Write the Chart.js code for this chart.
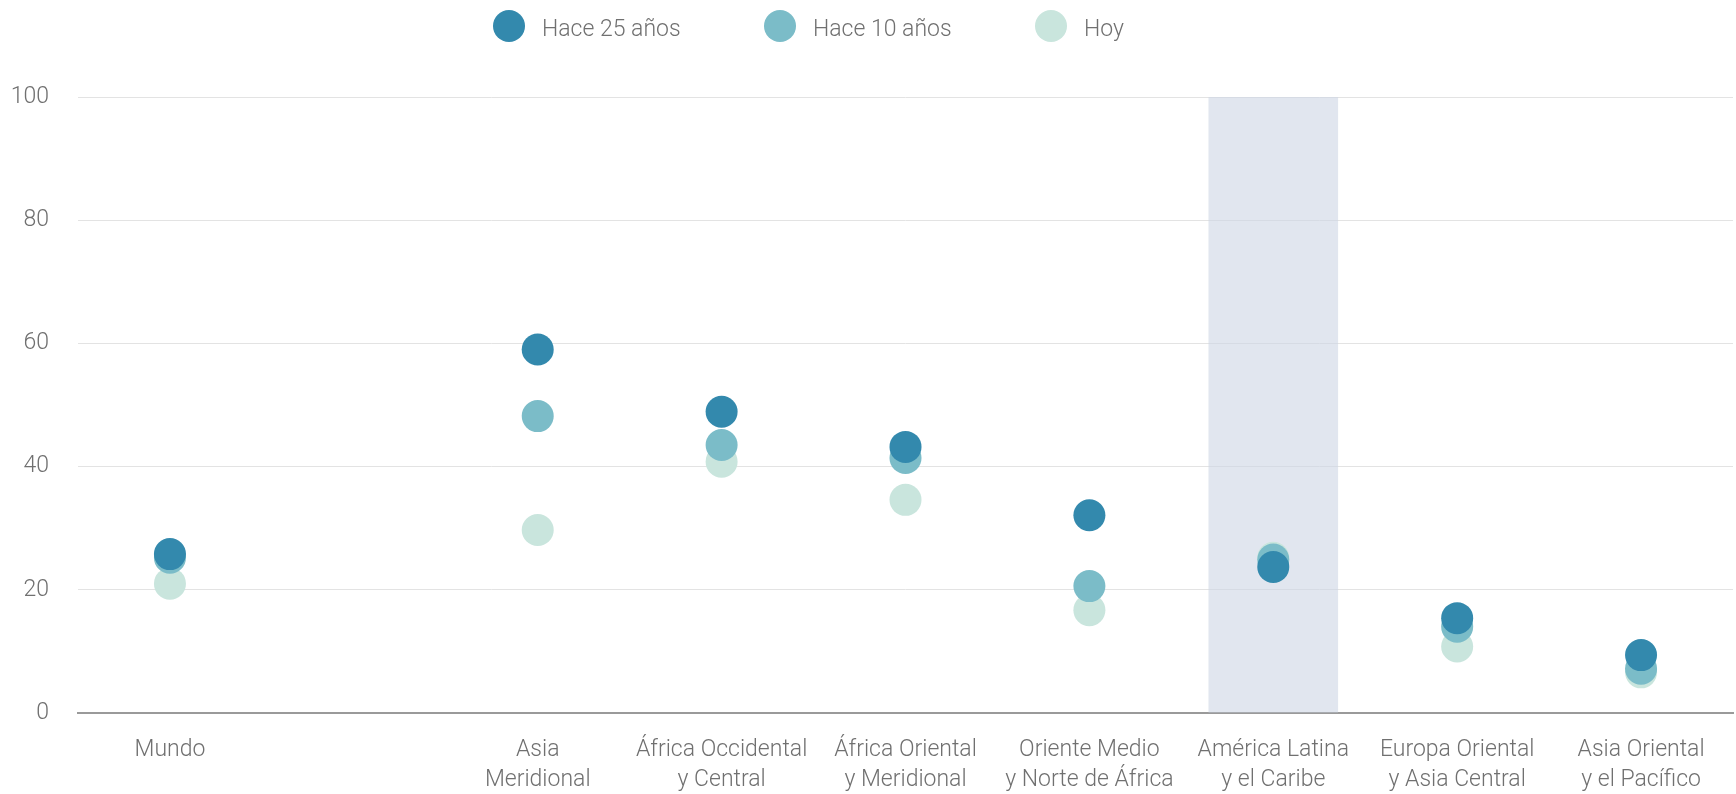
<!DOCTYPE html>
<html lang="es">
<head>
<meta charset="utf-8">
<title>Comparación regional</title>
<script src="https://cdn.jsdelivr.net/npm/chart.js@4.4.1/dist/chart.umd.min.js"></script>
<style>
    html, body { margin: 0; background: #fff; overflow: hidden; }
    #contenedor { position: relative; width: 1736px; height: 794px; overflow: hidden; }
    #grafico { display: block; }
    #leyenda {
        position: absolute; top: 10px; left: 493px;
        display: flex; font-family: Roboto, "Liberation Sans", sans-serif;
        font-weight: 300; font-size: 23px; color: #707070;
    }
    .item { display: flex; align-items: center; width: 271px; height: 32px; }
    .item span:last-child { position: relative; top: 2px; }
    .punto { width: 32px; height: 32px; border-radius: 50%; margin-right: 17px; }
</style>
</head>
<body>
<div id="contenedor">
    <div id="leyenda"></div>
    <canvas id="grafico" width="1736" height="794"></canvas>
</div>
<script>
// Datos del gráfico
const regiones = [
    'Mundo', '', ['Asia', 'Meridional'], ['África Occidental', 'y Central'],
    ['África Oriental', 'y Meridional'], ['Oriente Medio', 'y Norte de África'],
    ['América Latina', 'y el Caribe'], ['Europa Oriental', 'y Asia Central'],
    ['Asia Oriental', 'y el Pacífico']
];
const hace25 = [25.8, null, 59.0, 48.9, 43.2, 32.1, 23.7, 15.4, 9.4];
const hace10 = [25.2, null, 48.2, 43.5, 41.4, 20.6, 24.9, 14.0, 7.2];
const hoy = [21.0, null, 29.7, 40.8, 34.6, 16.7, 25.2, 10.8, 6.6];
// Región resaltada (franja de fondo)
const destacado = [null, null, null, null, null, null, 100, null, null];
const ticksY = [0, 20, 40, 60, 80, 100];

const series = [
    { nombre: 'Hace 25 años', datos: hace25, color: '#3389ad', orden: 1 },
    { nombre: 'Hace 10 años', datos: hace10, color: '#7bbcc8', orden: 2 },
    { nombre: 'Hoy', datos: hoy, color: '#c9e5dd', orden: 3 }
];

const fuente = { family: 'Roboto, "Liberation Sans", sans-serif', size: 23, weight: 300, lineHeight: 1.3 };

document.addEventListener('DOMContentLoaded', function() {
    // Leyenda en HTML
    const leyenda = document.getElementById('leyenda');
    series.forEach(s => {
        const item = document.createElement('div');
        item.className = 'item';
        item.innerHTML = `<span class="punto" style="background:${s.color}"></span><span>${s.nombre}</span>`;
        leyenda.appendChild(item);
    });

    const datasets = series.map(s => ({
        type: 'line',
        label: s.nombre,
        data: s.datos,
        showLine: false,
        pointRadius: 16,
        pointHoverRadius: 16,
        pointBorderWidth: 0,
        pointBackgroundColor: s.color,
        order: s.orden
    }));

    datasets.push({
        type: 'bar',
        label: 'destacado',
        data: destacado,
        backgroundColor: 'rgba(205, 213, 228, 0.6)',
        barPercentage: 0.705,
        categoryPercentage: 1,
        order: 10
    });

    const ctx = document.getElementById('grafico').getContext('2d');
    new Chart(ctx, {
        data: { labels: regiones, datasets: datasets },
        options: {
            responsive: false,
            animation: false,
            layout: { autoPadding: false, padding: { top: 97, right: 3, left: 0, bottom: 0 } },
            plugins: {
                legend: { display: false },
                tooltip: { enabled: false }
            },
            scales: {
                x: {
                    type: 'category',
                    offset: true,
                    grid: { display: false, drawTicks: false },
                    border: { display: true, color: '#9a9a9a', width: 2 },
                    ticks: {
                        color: '#707070',
                        font: fuente,
                        padding: 22,
                        maxRotation: 0,
                        autoSkip: false
                    },
                    afterFit: scale => {
                        scale.height = 81;
                        scale.paddingLeft = 0;
                        scale.paddingRight = 0;
                    }
                },
                y: {
                    min: 0,
                    max: 100,
                    afterBuildTicks: scale => { scale.ticks = ticksY.map(v => ({ value: v })); },
                    afterFit: scale => { scale.width = 78; },
                    grid: { color: '#e3e3e3', lineWidth: 1, drawTicks: false },
                    border: { display: false },
                    ticks: { color: '#707070', font: fuente, padding: 29 }
                }
            }
        }
    });
});
</script>
</body>
</html>
